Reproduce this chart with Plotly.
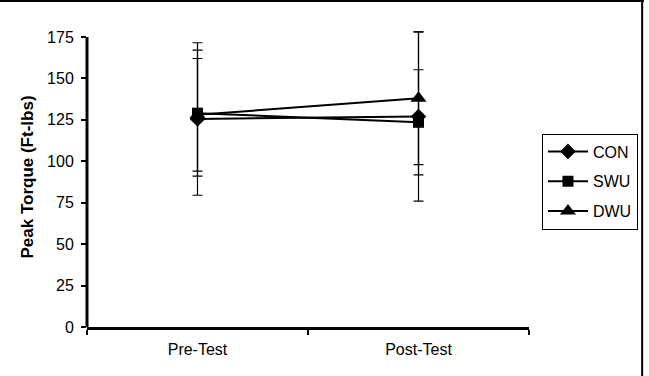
import plotly.graph_objects as go

categories = ["Pre-Test", "Post-Test"]
series_names = ["CON", "SWU", "DWU"]
con_vals = [125.5, 127]
swu_vals = [129, 123.5]
dwu_vals = [128, 138]
con_sd = [46, 51]
swu_sd = [38, 31.7]
dwu_sd = [34, 40]
y_ticks = [0, 25, 50, 75, 100, 125, 150, 175]
y_max = 175

symbols = ["diamond", "square", "triangle-up"]
sizes = [12, 11, 14]

fig = go.Figure()
for name, vals, sd, sym, sz in zip(series_names, [con_vals, swu_vals, dwu_vals],
                                   [con_sd, swu_sd, dwu_sd], symbols, sizes):
    fig.add_trace(go.Scatter(
        x=categories, y=vals, name=name, legendgroup=name, mode="lines+markers",
        line=dict(color="black", width=2),
        marker=dict(symbol=sym, size=sz, color="black"),
        error_y=dict(type="data", array=sd, visible=True, color="black",
                     thickness=1.2, width=5),
    ))

fig.update_layout(
    width=649, height=376,
    margin=dict(l=87, r=119, t=27, b=49),
    paper_bgcolor="white", plot_bgcolor="white",
    font=dict(family="Liberation Sans, Arial", size=16, color="black"),
    showlegend=True,
    legend=dict(x=1.027, y=0.645, xanchor="left", yanchor="top",
                bordercolor="black", borderwidth=1, bgcolor="white",
                font=dict(size=16), traceorder="grouped", tracegroupgap=6,
                itemwidth=40),
    xaxis=dict(type="category", range=[-0.5, 1.5], showline=True, linecolor="black",
               linewidth=3, ticks="outside", tickson="boundaries", ticklen=5,
               tickwidth=2, tickcolor="black", showgrid=False, zeroline=False,
               tickfont=dict(size=16), ticklabelstandoff=6),
    yaxis=dict(range=[0, 181], tickvals=y_ticks, showline=False,
               ticks="outside", ticklen=5, tickwidth=2, tickcolor="black",
               showgrid=False, zeroline=False, tickfont=dict(size=16),
               ticklabelstandoff=4,
               title=dict(text="<b>Peak Torque (Ft-lbs)</b>", font=dict(size=17), standoff=9)),
    shapes=[
        dict(type="line", xref="paper", yref="y", x0=0, x1=0, y0=0, y1=y_max,
             line=dict(color="black", width=3)),
        dict(type="line", xref="paper", yref="paper", x0=-0.2, x1=1.26, y0=1.087, y1=1.087,
             line=dict(color="black", width=2)),
        dict(type="line", xref="paper", yref="paper", x0=1.256, x1=1.256, y0=1.087, y1=-0.2,
             line=dict(color="black", width=2)),
    ],
)

fig.write_html("out.html")
